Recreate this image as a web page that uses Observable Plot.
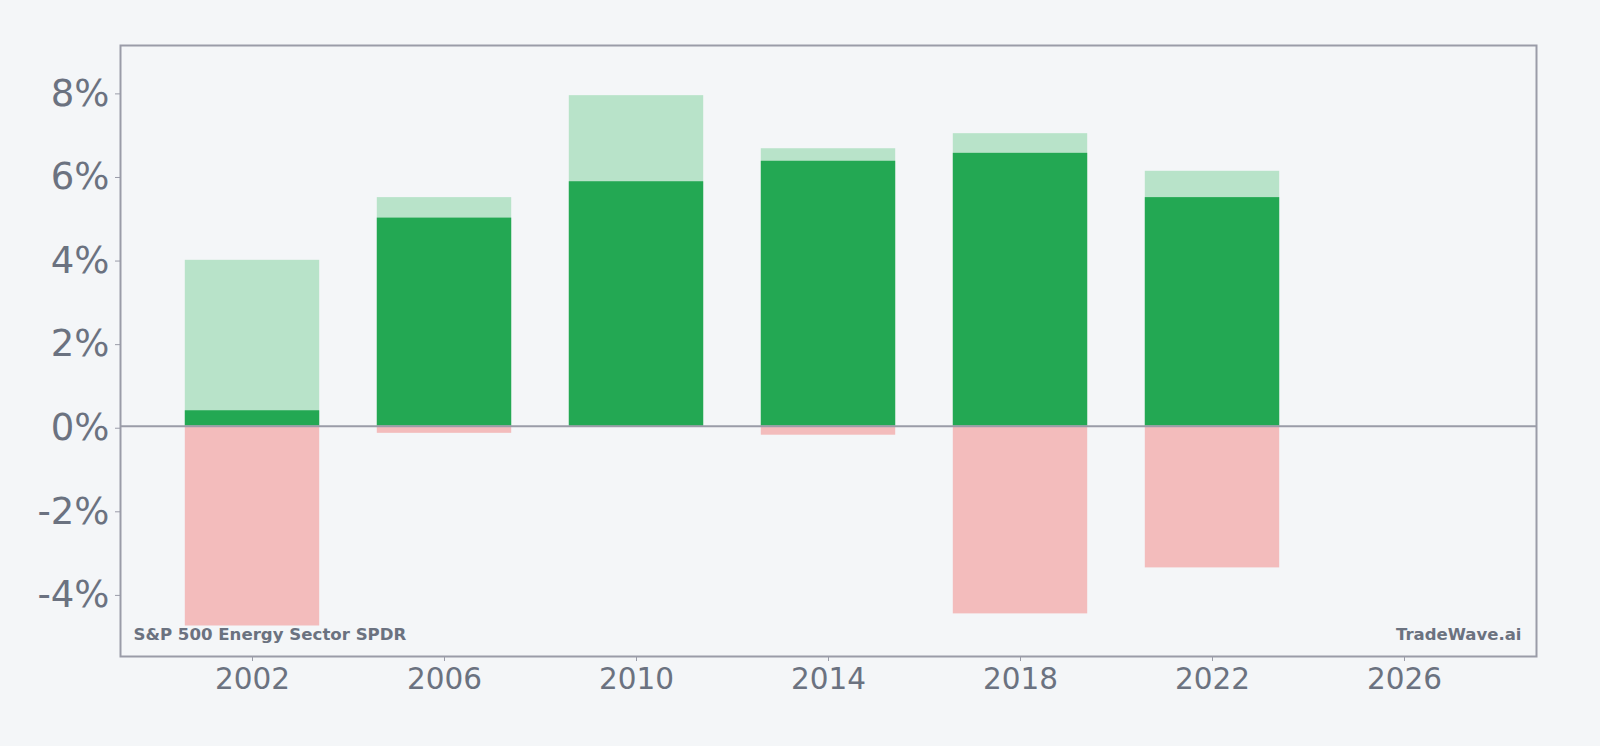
<!DOCTYPE html>
<html>
<head>
<meta charset="utf-8">
<script src="https://cdn.jsdelivr.net/npm/d3@7"></script>
<script src="https://cdn.jsdelivr.net/npm/@observablehq/plot@0.6"></script>
<style>
  html, body { margin: 0; padding: 0; background: #f4f6f8; }
  #chart { width: 1600px; height: 746px; }
</style>
</head>
<body>
<div id="chart"></div>
<script>
const years = [2002, 2006, 2010, 2014, 2018, 2022];
const highValues = [3.97, 5.47, 7.91, 6.64, 7.00, 6.10];
const midValues = [0.37, 4.98, 5.85, 6.34, 6.53, 5.47];
const lowValues = [-4.78, -0.17, 0, -0.215, -4.49, -3.39];
const xTicks = [2002, 2006, 2010, 2014, 2018, 2022, 2026];
const yTicks = [-4, -2, 0, 2, 4, 6, 8];
const sourceLabel = "S&P 500 Energy Sector SPDR";
const brandLabel = "TradeWave.ai";

const rows = years.map((year, i) => ({year, high: highValues[i], mid: midValues[i], low: lowValues[i]}));
const halfWidth = 1.4;

const textColor = "#6b7280";
const axisColor = "#9a9ca8";

const chart = Plot.plot({
  width: 1600,
  height: 746,
  marginLeft: 120,
  marginTop: 45,
  marginRight: 64,
  marginBottom: 90,
  style: {background: "#f4f6f8", fontFamily: "DejaVu Sans, sans-serif", color: textColor},
  x: {domain: [1999.25, 2028.75], label: null},
  y: {domain: [-5.51, 9.11], label: null},
  marks: [
    Plot.rectY(rows, {x1: d => d.year - halfWidth, x2: d => d.year + halfWidth, y1: 0, y2: "high", fill: "#b8e3c9"}),
    Plot.rectY(rows, {x1: d => d.year - halfWidth, x2: d => d.year + halfWidth, y1: 0, y2: "mid", fill: "#23a853"}),
    Plot.rectY(rows, {x1: d => d.year - halfWidth, x2: d => d.year + halfWidth, y1: 0, y2: "low", fill: "#f3bcbc"}),
    Plot.ruleY([0], {stroke: axisColor, strokeWidth: 1.8}),
    Plot.axisX({ticks: xTicks, tickFormat: d => String(d), fontSize: 29.5, stroke: axisColor, fill: textColor, tickSize: 5, tickPadding: 7, label: null}),
    Plot.axisY({ticks: yTicks, tickFormat: d => `${d}%`, fontSize: 37, stroke: axisColor, fill: textColor, tickSize: 5, tickPadding: 6, dy: 2, label: null}),
    Plot.frame({stroke: axisColor, strokeWidth: 2}),
    Plot.text([sourceLabel], {frameAnchor: "bottom-left", textAnchor: "start", lineAnchor: "bottom", dx: 13, dy: -17, fontSize: 16.6, fontWeight: "bold", fill: textColor}),
    Plot.text([brandLabel], {frameAnchor: "bottom-right", textAnchor: "end", lineAnchor: "bottom", dx: -15, dy: -17, fontSize: 16.5, fontWeight: "bold", fill: textColor})
  ]
});
document.getElementById("chart").appendChild(chart);
</script>
</body>
</html>
